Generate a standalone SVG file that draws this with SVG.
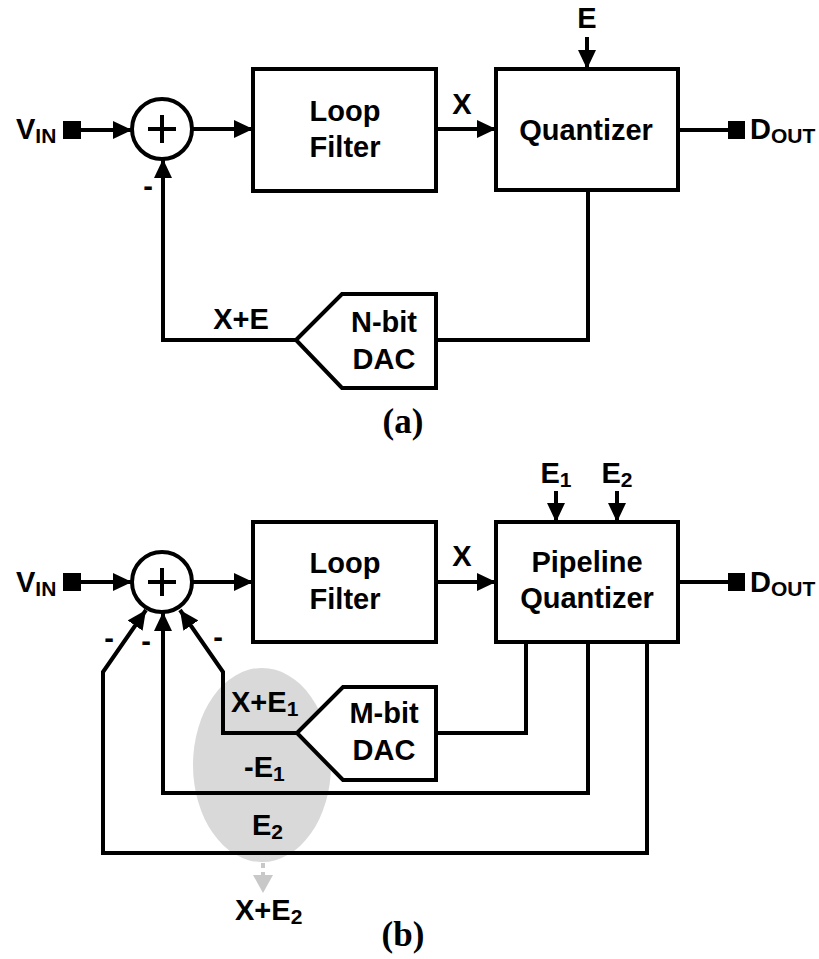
<svg xmlns="http://www.w3.org/2000/svg" width="819" height="959" viewBox="0 0 819 959">
<style>
.box{fill:#fff;stroke:#000;stroke-width:4;stroke-linejoin:miter}
.w{fill:none;stroke:#000;stroke-width:4;stroke-linejoin:miter}
.t{font-family:"Liberation Sans",Arial,sans-serif;font-weight:bold;font-size:29px;fill:#000}
.c{text-anchor:middle}
.cap{font-family:"Liberation Serif","Times New Roman",serif;font-weight:bold;font-size:35px;text-anchor:middle;fill:#000}
</style>
<defs>
<marker id="ah" markerUnits="userSpaceOnUse" markerWidth="20" markerHeight="18" refX="19" refY="9" orient="auto" viewBox="0 0 20 18">
<path d="M0,0 L19,9 L0,18 z" fill="#000"/>
</marker>
<marker id="ahg" markerUnits="userSpaceOnUse" markerWidth="21" markerHeight="20" refX="18" refY="10" orient="auto" viewBox="0 0 21 20">
<path d="M0,0 L18,10 L0,20 z" fill="#c8c8c8"/>
</marker>
</defs>

<!-- ===== (a) ===== -->
<g id="a-vin">
<rect x="63" y="121" width="18" height="18" fill="#000"/>
<text class="t" x="16" y="139">V<tspan font-size="21" dy="4">IN</tspan></text>
</g>
<g id="a-sum">
<circle cx="162" cy="129" r="30" class="box"/>
<path d="M148,129 H176 M162,115 V143" class="w" stroke-width="5"/>
</g>
<g id="a-loopfilter">
<rect x="253" y="69" width="183" height="122" class="box"/>
<text class="t c" x="345" y="121">Loop</text>
<text class="t c" x="345" y="157">Filter</text>
</g>
<g id="a-quantizer">
<rect x="496" y="69" width="182" height="121" class="box"/>
<text class="t c" x="586" y="140">Quantizer</text>
</g>
<g id="a-dac">
<path d="M296,340 L342,294 H436 V388 H342 Z" class="box"/>
<text class="t c" x="384" y="332">N-bit</text>
<text class="t c" x="384" y="369">DAC</text>
</g>
<g id="a-dout">
<rect x="728" y="121" width="17" height="18" fill="#000"/>
<text class="t" x="750" y="139">D<tspan font-size="21" dy="4">OUT</tspan></text>
</g>
<g id="a-connectors">
<path d="M81,130 H132" class="w" marker-end="url(#ah)"/>
<path d="M192,129 H253" class="w" marker-end="url(#ah)"/>
<path d="M436,129 H496" class="w" marker-end="url(#ah)"/>
<path d="M587,37 V69" class="w" marker-end="url(#ah)"/>
<path d="M678,130 H728" class="w"/>
<path d="M588,190 V340 H436" class="w"/>
<path d="M296,340 H163 V159" class="w" marker-end="url(#ah)"/>
</g>
<g id="a-labels">
<text class="t c" x="587" y="28">E</text>
<text class="t c" x="462" y="114">X</text>
<text class="t c" x="241" y="329">X+E</text>
<text class="t c" x="148" y="196">-</text>
<text class="cap" x="403" y="433">(a)</text>
</g>

<!-- ===== (b) ===== -->
<ellipse id="b-highlight" cx="262" cy="765" rx="69" ry="97" fill="#d9d9d9"/>
<g id="b-vin">
<rect x="63" y="573" width="18" height="18" fill="#000"/>
<text class="t" x="16" y="592">V<tspan font-size="21" dy="4">IN</tspan></text>
</g>
<g id="b-sum">
<circle cx="162" cy="582" r="30" class="box"/>
<path d="M148,582 H176 M162,568 V596" class="w" stroke-width="5"/>
</g>
<g id="b-loopfilter">
<rect x="253" y="522" width="183" height="120" class="box"/>
<text class="t c" x="345" y="573">Loop</text>
<text class="t c" x="345" y="609">Filter</text>
</g>
<g id="b-quantizer">
<rect x="496" y="522" width="182" height="120" class="box"/>
<text class="t c" x="587" y="572">Pipeline</text>
<text class="t c" x="587" y="608">Quantizer</text>
</g>
<g id="b-dac">
<path d="M297,733 L343,687 H436 V780 H343 Z" class="box"/>
<text class="t c" x="384" y="723">M-bit</text>
<text class="t c" x="384" y="760">DAC</text>
</g>
<g id="b-dout">
<rect x="728" y="573" width="17" height="18" fill="#000"/>
<text class="t" x="750" y="592">D<tspan font-size="21" dy="4">OUT</tspan></text>
</g>
<g id="b-connectors">
<path d="M81,582 H132" class="w" marker-end="url(#ah)"/>
<path d="M192,582 H253" class="w" marker-end="url(#ah)"/>
<path d="M436,582 H496" class="w" marker-end="url(#ah)"/>
<path d="M556,491 V522" class="w" marker-end="url(#ah)"/>
<path d="M617,491 V522" class="w" marker-end="url(#ah)"/>
<path d="M678,582 H728" class="w"/>
<path d="M526,642 V733 H436" class="w"/>
<path d="M297,733 H223 V672 L180,610" class="w" marker-end="url(#ah)"/>
<path d="M588,642 V793 H163 V612" class="w" marker-end="url(#ah)"/>
<path d="M647,642 V853 H103 V672 L146,610" class="w" marker-end="url(#ah)"/>
<path d="M263,863 V876" fill="none" stroke="#c8c8c8" stroke-width="4" stroke-dasharray="5,4"/>
<path d="M263,874 V893" fill="none" stroke="none" marker-end="url(#ahg)"/>
</g>
<g id="b-labels">
<text class="t c" x="556" y="483">E<tspan font-size="21" dy="4">1</tspan></text>
<text class="t c" x="617" y="483">E<tspan font-size="21" dy="4">2</tspan></text>
<text class="t c" x="462" y="566">X</text>
<text class="t" x="231" y="712">X+E<tspan font-size="21" dy="4">1</tspan></text>
<text class="t" x="244" y="777">-E<tspan font-size="21" dy="4">1</tspan></text>
<text class="t" x="252" y="835">E<tspan font-size="21" dy="4">2</tspan></text>
<text class="t" x="235" y="920">X+E<tspan font-size="21" dy="4">2</tspan></text>
<text class="t c" x="109" y="648">-</text>
<text class="t c" x="146" y="651">-</text>
<text class="t c" x="218" y="647">-</text>
<text class="cap" x="403" y="946">(b)</text>
</g>
</svg>
